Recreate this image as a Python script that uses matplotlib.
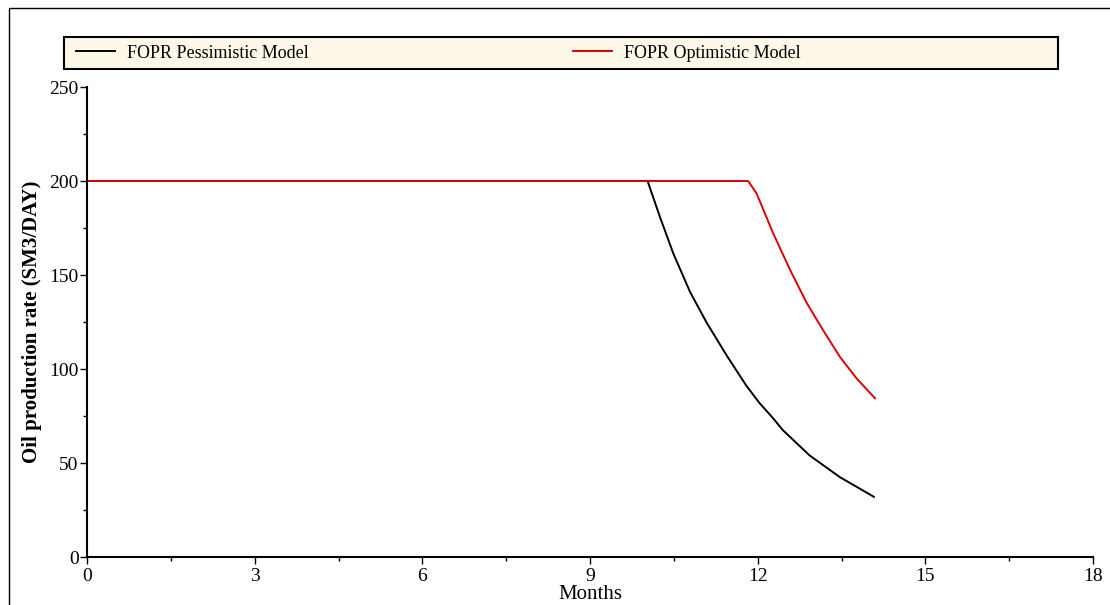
import matplotlib
matplotlib.use("Agg")
import matplotlib.pyplot as plt
from matplotlib.patches import Rectangle
from matplotlib.ticker import MultipleLocator

months_pess = [0, 10.03, 10.25, 10.49, 10.79, 11.09, 11.45, 11.80, 12.03, 12.27, 12.45, 12.93, 13.47, 14.08]
rate_pess = [200, 200, 181, 161.5, 141, 124.5, 107, 91, 82, 74, 67.5, 54, 42.5, 32]
months_opt = [0, 11.83, 11.98, 12.28, 12.58, 12.88, 13.17, 13.47, 13.77, 14.1]
rate_opt = [200, 200, 193.4, 172, 152.7, 135, 120.7, 106.5, 95, 84.4]
labels = ["FOPR Pessimistic Model", "FOPR Optimistic Model"]

plt.rcParams['font.family'] = ['Liberation Serif', 'DejaVu Serif']

W, H = 1110, 605
fig = plt.figure(figsize=(W / 100, H / 100), dpi=100)
ax = fig.add_axes([87 / W, (H - 557) / H, (1093 - 87) / W, (557 - 87) / H])

l1, = ax.plot(months_pess, rate_pess, color='black', lw=1.4)
l2, = ax.plot(months_opt, rate_opt, color='#dd0000', lw=1.4)

ax.set_xlim(0, 18)
ax.set_ylim(0, 250)
ax.xaxis.set_major_locator(MultipleLocator(3))
ax.xaxis.set_minor_locator(MultipleLocator(1.5))
ax.yaxis.set_major_locator(MultipleLocator(50))
ax.yaxis.set_minor_locator(MultipleLocator(25))
for s in ['top', 'right']:
    ax.spines[s].set_visible(False)
for s in ['left', 'bottom']:
    ax.spines[s].set_linewidth(1.5)
ax.tick_params(axis='both', which='major', labelsize=14, length=5, width=1)
ax.tick_params(axis='both', which='minor', length=3, width=1)
ax.tick_params(axis='x', which='major', pad=3)
ax.tick_params(axis='y', which='major', pad=1)

ax.set_xlabel("Months", fontsize=15, labelpad=0)
ax.set_ylabel("Oil production rate (SM3/DAY)", fontsize=15, fontweight='bold', labelpad=5)

# figure frame and legend box
fig.patches.append(Rectangle((9 / W, -0.05), 1.2, (H - 8) / H + 0.05, transform=fig.transFigure,
                             fill=False, edgecolor='black', lw=1))
fig.patches.append(Rectangle((64 / W, (H - 69) / H), (1058 - 64) / W, 32 / H,
                             transform=fig.transFigure, facecolor='#fdf8e8',
                             edgecolor='black', lw=1.5, zorder=0))

fig.legend([l1, l2], labels, loc='center left', bbox_to_anchor=(76 / W, (H - 53) / H),
           ncol=2, frameon=False, fontsize=13, handlelength=2.15, handletextpad=0.7,
           columnspacing=14.6, borderaxespad=0, borderpad=0)

fig.savefig("out.png", dpi=100)
